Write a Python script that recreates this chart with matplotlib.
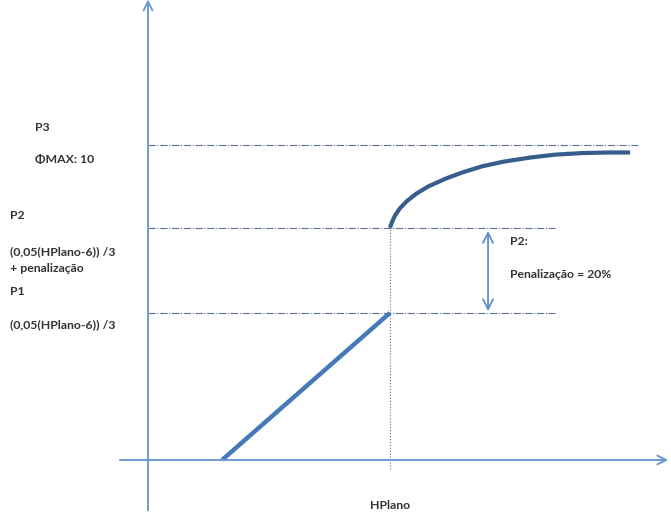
import matplotlib.pyplot as plt

# Níveis de pontuação (unidades do gráfico)
x_inicio = 3.06          # onde a reta sai do eixo x
x_hplano = 10.0          # posição de HPlano
p1 = 4.67                # (0,05(HPlano-6)) /3
p2 = 7.37                # + penalização
p3 = 10.0                # ΦMAX: 10

# Curva após HPlano
curva_x = [10.0, 10.08, 10.2, 10.4, 10.7, 11.1, 11.6, 12.3, 13.0, 13.8, 14.7, 15.8, 16.8, 17.9, 19.0, 19.92]
curva_y = [7.37, 7.55, 7.75, 7.98, 8.22, 8.46, 8.69, 8.93, 9.13, 9.32, 9.47, 9.60, 9.69, 9.74, 9.76, 9.76]

textos_esq = [
    ('P3', 35, p3 + 0.55),
    ('\u03a6MAX: 10', 35, p3 - 0.45),
    ('P2', 10, p2 + 0.4),
    ('(0,05(HPlano-6)) /3', 10, p2 - 0.75),
    ('+ penalização', 10, p2 - 1.3),
    ('P1', 10, p1 + 0.68),
    ('(0,05(HPlano-6)) /3', 10, p1 - 0.38),
]

fig = plt.figure(figsize=(6.71, 5.17), dpi=100)
ax = fig.add_axes([0, 0, 1, 1])
ax.set_xlim(-6.116, 21.61)
ax.set_ylim(-1.81, 14.60)
ax.axis('off')

cor_eixo = '#6b9bd2'
cor_tracejado = '#5d6f96'

# eixos com seta
ax.annotate('', xy=(0, 14.62), xytext=(0, -1.6), annotation_clip=False,
            arrowprops=dict(arrowstyle='->', color=cor_eixo, lw=1.4,
                            mutation_scale=16, shrinkA=0, shrinkB=0))
ax.annotate('', xy=(21.5, 0), xytext=(-1.16, 0), annotation_clip=False,
            arrowprops=dict(arrowstyle='->', color=cor_eixo, lw=1.4,
                            mutation_scale=16, shrinkA=0, shrinkB=0))

# linhas de referência
ax.plot([0, 20.3], [p3, p3], color=cor_tracejado, lw=0.8, ls='-.')
ax.plot([0, 16.8], [p2, p2], color=cor_tracejado, lw=0.8, ls='-.')
ax.plot([0, 16.8], [p1, p1], color=cor_tracejado, lw=0.8, ls='-.')
ax.plot([x_hplano, x_hplano], [-0.3, p2], color=cor_tracejado, lw=0.8, ls=':')

# função
ax.plot([x_inicio, x_hplano], [0, p1], color='#4579b8', lw=3.2, solid_capstyle='butt')
ax.plot(curva_x, curva_y, color='#365d8c', lw=3.0, solid_capstyle='butt')

# seta da penalização
ax.annotate('', xy=(14.05, p2 - 0.1), xytext=(14.05, p1 + 0.05),
            arrowprops=dict(arrowstyle='<->', color='#5b8fd0', lw=1.3,
                            mutation_scale=18, shrinkA=0, shrinkB=0))

fonte = dict(family='Lato', fontsize=8.8, color='#333333', fontweight='bold',
             va='center', ha='left')
for t, px, y in textos_esq:
    ax.text(-6.116 + px / 24.2, y, t, **fonte)

ax.text(14.95, 6.95, 'P2:', **fonte)
ax.text(14.95, 5.9, 'Penalização = 20%', **fonte)
ax.text(x_hplano, -1.45, 'HPlano', **{**fonte, 'ha': 'center'})

fig.savefig('out.png', dpi=100)
